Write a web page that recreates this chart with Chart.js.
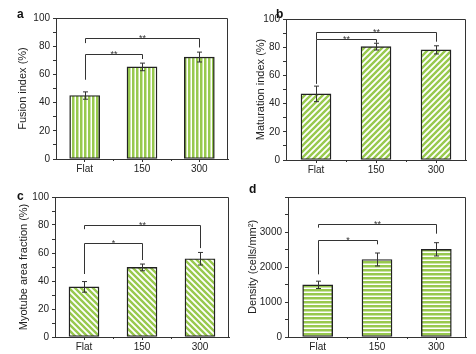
<!DOCTYPE html>
<html>
<head>
<meta charset="utf-8">
<script src="https://cdn.jsdelivr.net/npm/chart.js@4.4.1/dist/chart.umd.min.js"></script>
<style>
  html, body { margin: 0; padding: 0; background: #fff; }
  #wrap { position: relative; width: 476px; height: 354px; font-family: "Liberation Sans", Arial, sans-serif; }
  .panel { position: absolute; width: 238px; height: 177px; }
  .letter { position: absolute; font-weight: bold; font-size: 12px; color: #111; line-height: 12px; }
</style>
</head>
<body>
<div id="wrap">
  <div class="panel" style="left:0;top:0"><canvas id="ca" width="238" height="177"></canvas></div>
  <div class="panel" style="left:238px;top:0"><canvas id="cb" width="238" height="177"></canvas></div>
  <div class="panel" style="left:0;top:177px"><canvas id="cc" width="238" height="177"></canvas></div>
  <div class="panel" style="left:238px;top:177px"><canvas id="cd" width="238" height="177"></canvas></div>
  <div class="letter" style="left:17px;top:8px">a</div>
  <div class="letter" style="left:276px;top:8px">b</div>
  <div class="letter" style="left:17px;top:190px">c</div>
  <div class="letter" style="left:249px;top:183px">d</div>
</div>
<script>
'use strict';

// ── dati ─────────────────────────────────────────────
const categories = ['Flat', '150', '300'];

const fusionIndex = [45, 65.3, 72.3];
const fusionErr = [2.6, 2.7, 3.5];
const fusionBrackets = [
  { from: 0, to: 1, level: 74.6, leftEnd: 56.2, rightEnd: 70.9, text: '**' },
  { from: 0, to: 2, level: 85.8, leftEnd: 82.2, rightEnd: 79.1, text: '**' }
];

const maturationIndex = [46.9, 80.4, 78.1];
const maturationErr = [5.5, 2.4, 2.9];
const maturationBrackets = [
  { from: 0, to: 1, level: 85.6, leftEnd: 54, rightEnd: 83.2, text: '**' },
  { from: 0, to: 2, level: 91, leftEnd: 85.6, rightEnd: 83.9, text: '**' }
];

const areaFraction = [35.8, 49.7, 55.9];
const areaErr = [3.8, 2.4, 4.5];
const areaBrackets = [
  { from: 0, to: 1, level: 67.5, leftEnd: 45, rightEnd: 55, text: '*' },
  { from: 0, to: 2, level: 79.9, leftEnd: 77, rightEnd: 63.5, text: '**' }
];

const density = [1490, 2215, 2505];
const densityErr = [105, 185, 190];
const densityBrackets = [
  { from: 0, to: 1, level: 2762, leftEnd: 1790, rightEnd: 2648, text: '*' },
  { from: 0, to: 2, level: 3238, leftEnd: 3124, rightEnd: 2952, text: '**' }
];

const percentTicks = [0, 20, 40, 60, 80, 100];
const densityTicks = [0, 1000, 2000, 3000];

// ── stile ────────────────────────────────────────────
const GREEN = '#98c94e';
const INK = '#333';
const FONT = '"Liberation Sans", Arial, sans-serif';

function makePattern(kind) {
  const c = document.createElement('canvas');
  const s = kind === 'v' || kind === 'h' ? 4 : 6;
  c.width = s; c.height = s;
  const g = c.getContext('2d');
  g.fillStyle = '#fff';
  g.fillRect(0, 0, s, s);
  g.fillStyle = GREEN;
  g.strokeStyle = GREEN;
  if (kind === 'v') g.fillRect(0, 0, 2.5, s);
  else if (kind === 'h') g.fillRect(0, 0, s, 2.5);
  else {
    g.lineWidth = 2.4;
    g.beginPath();
    for (let k = -1; k <= 1; k++) {
      if (kind === '/') { g.moveTo(k * s - s, s * 2); g.lineTo(k * s + s * 2, -s); }
      else { g.moveTo(k * s - s, -s); g.lineTo(k * s + s * 2, s * 2); }
    }
    g.stroke();
  }
  return g.createPattern(c, 'repeat');
}

// barre d'errore, parentesi di significatività, cornice
const decorPlugin = {
  id: 'decor',
  afterDatasetsDraw(chart, args, opts) {
    const { ctx, chartArea: a, scales: { x, y } } = chart;
    ctx.save();
    ctx.strokeStyle = INK;
    ctx.lineWidth = 1;

    // cornice sopra e a destra
    ctx.beginPath();
    ctx.moveTo(a.left, Math.round(a.top) + 0.5);
    ctx.lineTo(Math.round(a.right) - 0.5, Math.round(a.top) + 0.5);
    ctx.lineTo(Math.round(a.right) - 0.5, a.bottom);
    ctx.stroke();

    // tacche secondarie tra le categorie
    ctx.beginPath();
    for (let i = 0; i < categories.length - 1; i++) {
      const xm = Math.round((x.getPixelForValue(i) + x.getPixelForValue(i + 1)) / 2) + 0.5;
      ctx.moveTo(xm, a.bottom);
      ctx.lineTo(xm, a.bottom + 2);
    }
    ctx.stroke();

    // barre d'errore
    const vals = opts.values, errs = opts.errors;
    ctx.beginPath();
    vals.forEach((v, i) => {
      const xc = Math.round(x.getPixelForValue(i)) + 0.5;
      const yh = y.getPixelForValue(v + errs[i]);
      const yl = y.getPixelForValue(v - errs[i]);
      ctx.moveTo(xc, yh); ctx.lineTo(xc, yl);
      ctx.moveTo(xc - 2.5, yh); ctx.lineTo(xc + 2.5, yh);
      ctx.moveTo(xc - 2.5, yl); ctx.lineTo(xc + 2.5, yl);
    });
    ctx.stroke();

    // parentesi
    ctx.fillStyle = INK;
    ctx.font = '9px ' + FONT;
    ctx.textAlign = 'center';
    ctx.textBaseline = 'alphabetic';
    opts.brackets.forEach(b => {
      const x0 = Math.round(x.getPixelForValue(b.from)) + 0.5;
      const x1 = Math.round(x.getPixelForValue(b.to)) + 0.5;
      const yl = Math.round(y.getPixelForValue(b.level)) + 0.5;
      ctx.beginPath();
      ctx.moveTo(x0, y.getPixelForValue(b.leftEnd));
      ctx.lineTo(x0, yl);
      ctx.lineTo(x1, yl);
      ctx.lineTo(x1, y.getPixelForValue(b.rightEnd));
      ctx.stroke();
      ctx.fillText(b.text, (x0 + x1) / 2, yl + 2);
    });
    ctx.restore();
  }
};

function makePanel(id, cfg) {
  const ctx = document.getElementById(id).getContext('2d');
  return new Chart(ctx, {
    type: 'bar',
    data: {
      labels: categories,
      datasets: [{
        data: cfg.values,
        backgroundColor: makePattern(cfg.hatch),
        borderColor: '#222',
        borderWidth: 1.4,
        borderSkipped: false,
        barThickness: 30
      }]
    },
    plugins: [decorPlugin],
    options: {
      responsive: false,
      devicePixelRatio: 1,
      animation: false,
      events: [],
      layout: { padding: { left: 0, top: cfg.area.top, right: 238 - cfg.area.right, bottom: 0 } },
      plugins: {
        legend: { display: false },
        tooltip: { enabled: false },
        decor: { values: cfg.values, errors: cfg.errors, brackets: cfg.brackets }
      },
      scales: {
        x: {
          afterFit: s => { s.height = 177 - cfg.area.bottom; },
          grid: { offset: false, drawOnChartArea: false, tickLength: 3, tickColor: INK },
          border: { color: INK, width: 1 },
          ticks: { color: '#222', padding: 1.5, font: { family: FONT, size: 10 } }
        },
        y: {
          min: 0,
          max: cfg.max,
          afterFit: s => { s.width = cfg.area.left; },
          grid: { drawOnChartArea: false, tickLength: 3, tickColor: INK },
          border: { color: INK, width: 1 },
          ticks: {
            stepSize: cfg.step,
            autoSkip: false,
            color: '#222',
            padding: 3,
            font: { family: FONT, size: 10 },
            callback: v => cfg.ticks.includes(v) ? String(v) : ''
          },
          title: {
            display: true,
            text: cfg.title,
            color: '#222',
            font: { family: FONT, size: 11 },
            padding: { top: cfg.titleX - 6.6, bottom: 0 }
          }
        }
      }
    }
  });
}

makePanel('ca', {
  values: fusionIndex, errors: fusionErr, brackets: fusionBrackets, hatch: 'v',
  max: 100, step: 10, ticks: percentTicks, title: 'Fusion index (%)', titleX: 23,
  area: { left: 56, top: 18, right: 228, bottom: 159 }
});
makePanel('cb', {
  values: maturationIndex, errors: maturationErr, brackets: maturationBrackets, hatch: '/',
  max: 100, step: 10, ticks: percentTicks, title: 'Maturation index (%)', titleX: 23,
  area: { left: 48, top: 19, right: 228, bottom: 160 }
});
makePanel('cc', {
  values: areaFraction, errors: areaErr, brackets: areaBrackets, hatch: '\\',
  max: 100, step: 10, ticks: percentTicks, title: 'Myotube area fraction (%)', titleX: 24,
  area: { left: 55, top: 20, right: 229, bottom: 160 }
});
makePanel('cd', {
  values: density, errors: densityErr, brackets: densityBrackets, hatch: 'h',
  max: 4000, step: 500, ticks: densityTicks, title: 'Density (cells/mm²)', titleX: 15,
  area: { left: 50, top: 20, right: 228, bottom: 160 }
});
</script>
</body>
</html>
